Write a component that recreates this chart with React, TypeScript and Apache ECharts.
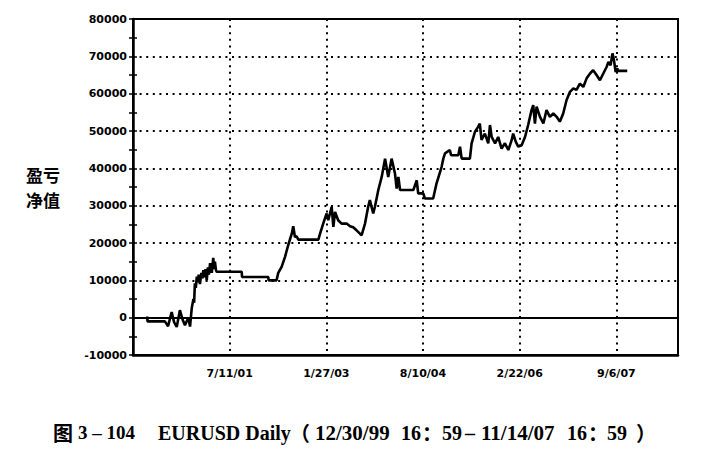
import React, { useEffect, useRef } from 'react';
import * as echarts from 'echarts';

// x = trading-bar index since 12/30/99, y = net equity
const barIndex = [
  59, 60, 132, 145, 160, 170, 181, 194, 205, 215, 229, 236, 243, 250, 253, 256, 260, 264, 268, 272,
  277, 283, 287, 291, 296, 300, 305, 310, 314, 319, 326, 332, 336, 339, 343, 346, 450, 451, 560, 561,
  594, 601, 615, 629, 642, 657, 663, 670, 677, 684, 767, 774, 787, 801, 808, 822, 829, 836, 849, 863,
  884, 898, 911, 925, 939, 946, 960, 973, 980, 994, 1001, 1015, 1029, 1043, 1056, 1070, 1084, 1091, 1098, 1105,
  1160, 1174, 1180, 1201, 1208, 1242, 1256, 1277, 1284, 1291, 1311, 1316, 1346, 1353, 1360, 1394, 1401, 1415, 1428, 1435,
  1442, 1456, 1470, 1477, 1484, 1498, 1511, 1525, 1539, 1553, 1567, 1573, 1584, 1594, 1608, 1622, 1635, 1649, 1656, 1663,
  1670, 1684, 1698, 1711, 1725, 1739, 1753, 1766, 1780, 1794, 1808, 1822, 1835, 1849, 1863, 1877, 1891, 1904, 1918, 1932,
  1946, 1960, 1967, 1976, 1984, 1990, 1997, 2004, 2006, 2045,
];
const equity = [
  300, -1000, -1000, -2300, 1500, -1200, -2500, 2000, -500, -2000, 0, -2400, 2500, 5000, 4000, 9200, 8000, 11000, 9500, 11500,
  9000, 12000, 10500, 12700, 10800, 13000, 10000, 13500, 11500, 14600, 12000, 16000, 13000, 15000, 12800, 12300, 12300, 10900, 10900, 10000,
  10000, 12000, 13600, 16300, 19400, 22500, 24500, 21600, 21800, 20900, 20900, 22500, 25200, 27900, 26100, 29700, 24300, 28300, 26100, 25200,
  25200, 24500, 24200, 23400, 22500, 22100, 25200, 29700, 31500, 27900, 29700, 34200, 37700, 42600, 37700, 42600, 38600, 34600, 37700, 34200,
  34200, 36800, 33300, 33300, 31900, 31900, 36000, 40400, 42600, 44000, 44900, 43500, 43500, 45800, 42600, 42600, 46700, 49800, 51100, 52000,
  47600, 49300, 46700, 51600, 48400, 46700, 48400, 45300, 46700, 44900, 47600, 49300, 47100, 45800, 46200, 48400, 51600, 55600, 56900, 52000,
  56500, 53800, 52000, 55600, 53800, 54700, 53800, 52500, 54700, 58300, 60500, 61400, 61000, 62700, 61800, 64100, 65400, 66300, 65000, 63600,
  65400, 67200, 68500, 67600, 70800, 69000, 65800, 66800, 66100, 66100,
];

const tickBars = [400, 800, 1200, 1600, 2000];
const tickLabels = ['7/11/01', '1/27/03', '8/10/04', '2/22/06', '9/6/07'];
const xMin = 0;
const xMax = 2255;
const yMin = -10000;
const yMax = 80000;
const yStep = 10000;
const yTitle = ['盈亏', '净值'];
const captionHead = ['图', '3 – 104', 'EURUSD Daily'];
const captionRange = ['（', '12/30/99', '16', '：', '59', '–', '11/14/07', '16', '：', '59', '）'];

export default function App() {
  const ref = useRef<HTMLDivElement>(null);
  useEffect(() => {
    const chart = echarts.init(ref.current!, null, { renderer: 'svg' });
    const dotted = { color: '#000', width: 2, type: [2, 4.6], cap: 'butt' };
    const labelFont = { color: '#000', fontFamily: 'DejaVu Sans', fontWeight: 'bold', fontSize: 11 };
    const serif = 'bold 20px "Liberation Serif"';
    const serifWide = 'bold 21px "Liberation Serif"';
    const cjk = 'bold 20px "Noto Sans CJK SC"';
    const capY = 432.5;
    const headX = [53, 78, 158];
    const headFont = [cjk, 'bold 19px "Liberation Serif"', serif];
    const rangeX = [290, 315, 401, 422, 442, 465, 481, 567, 588, 607, 636];
    const rangeFont = [cjk, serifWide, serif, cjk, serif, serif, serifWide, serif, cjk, serif, cjk];
    const captionEls = [
      ...captionHead.map((t, i) => ({
        type: 'text', x: headX[i], y: capY,
        style: { text: t, fill: '#000', font: headFont[i], align: 'left', verticalAlign: 'middle' },
      })),
      ...captionRange.map((t, i) => ({
        type: 'text', x: rangeX[i], y: capY,
        style: { text: t, fill: '#000', font: rangeFont[i], align: 'left', verticalAlign: 'middle' },
      })),
    ];
    const titleY = [174, 199];
    const titleEls = yTitle.map((t, i) => ({
      type: 'text', x: 43, y: titleY[i],
      style: { text: t, fill: '#000', font: 'bold 17px "Noto Sans CJK SC"', align: 'center', verticalAlign: 'middle' },
    }));
    chart.setOption({
      animation: false,
      backgroundColor: '#fff',
      grid: {
        left: 133, top: 19, right: 48, bottom: 102,
        show: true, borderColor: '#000', borderWidth: 2, backgroundColor: 'transparent',
      },
      xAxis: {
        type: 'value', min: xMin, max: xMax, interval: 400,
        axisLine: { show: true, onZero: false, lineStyle: { color: '#000', width: 2.5 } },
        axisTick: { show: false },
        axisLabel: {
          ...labelFont, margin: 13, showMinLabel: true, showMaxLabel: true,
          formatter: (v: number) => {
            const i = tickBars.indexOf(v);
            return i >= 0 ? tickLabels[i] : '';
          },
        },
        splitLine: { show: true, lineStyle: dotted },
      },
      yAxis: [
        {
          type: 'value', min: yMin, max: yMax, interval: yStep, position: 'left',
          axisLine: { show: true, onZero: false, lineStyle: { color: '#000', width: 2.5 } },
          axisTick: { show: true, length: 4, lineStyle: { color: '#000', width: 1.5 } },
          minorTick: { show: true, splitNumber: 2, length: 4, lineStyle: { color: '#000', width: 1.5 } },
          axisLabel: { ...labelFont, margin: 6, formatter: (v: number) => String(v) },
          splitLine: { show: true, lineStyle: dotted },
        },
        {
          type: 'value', min: yMin, max: yMax, interval: yStep, position: 'left', offset: 0,
          axisLine: { show: false, onZero: false },
          axisTick: { show: true, inside: true, length: 4, lineStyle: { color: '#000', width: 1.5 } },
          minorTick: { show: true, splitNumber: 2, length: 4, lineStyle: { color: '#000', width: 1.5 } },
          axisLabel: { show: false },
          splitLine: { show: false },
        },
      ],
      series: [
        {
          type: 'line',
          yAxisIndex: 0,
          data: barIndex.map((b, i) => [b, equity[i]]),
          symbol: 'none',
          showSymbol: false,
          lineStyle: { color: '#000', width: 2.6 },
          z: 5,
          markLine: {
            silent: true,
            symbol: ['none', 'none'],
            label: { show: false },
            lineStyle: { color: '#000', type: 'solid', width: 2 },
            data: [{ yAxis: 0 }],
          },
        },
      ],
      graphic: [...titleEls, ...captionEls],
    });
    return () => chart.dispose();
  }, []);
  return <div ref={ref} style={{ position: 'fixed', left: 0, top: 0, width: 726, height: 457, background: '#fff' }} />;
}
